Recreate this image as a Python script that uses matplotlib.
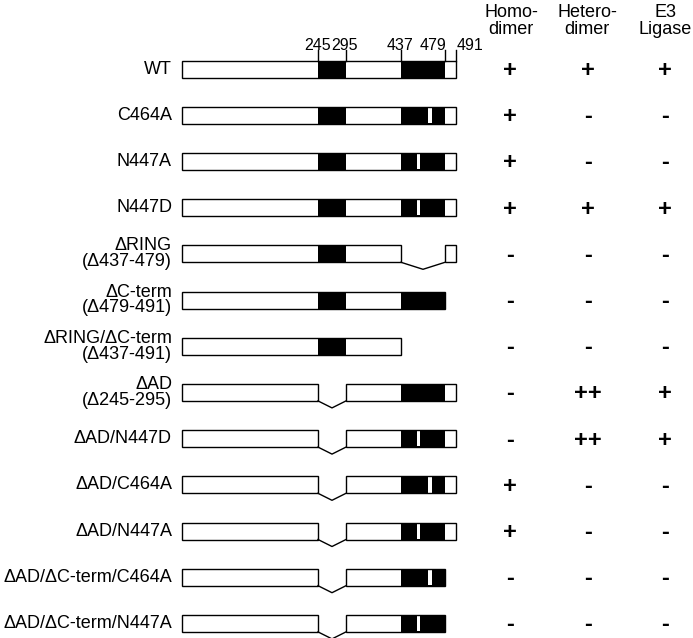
import numpy as np
import matplotlib.pyplot as plt
from matplotlib.patches import Rectangle

plt.rcParams['font.family'] = ['Liberation Sans', 'DejaVu Sans']

# Data
constructs = ['WT', 'C464A', 'N447A', 'N447D',
              'ΔRING\n(Δ437-479)', 'ΔC-term\n(Δ479-491)',
              'ΔRING/ΔC-term\n(Δ437-491)', 'ΔAD\n(Δ245-295)',
              'ΔAD/N447D', 'ΔAD/C464A', 'ΔAD/N447A',
              'ΔAD/ΔC-term/C464A', 'ΔAD/ΔC-term/N447A']

full = [(1, 491)]
no_ad = [(1, 245), (295, 491)]
no_ad_ct = [(1, 245), (295, 479)]
segments = [full, full, full, full,
            [(1, 437), (479, 491)], [(1, 479)], [(1, 437)],
            no_ad, no_ad, no_ad, no_ad, no_ad_ct, no_ad_ct]

mutations = [None, 464, 447, 447, None, None, None, None,
             447, 464, 447, 464, 447]

domains = [(245, 295), (437, 479)]   # AD, RING
boundaries = [245, 295, 437, 479, 491]

columns = ['Homo-\ndimer', 'Hetero-\ndimer', 'E3\nLigase']
homodimer = ['+', '+', '+', '+', '-', '-', '-', '-', '-', '+', '+', '-', '-']
heterodimer = ['+', '-', '-', '+', '-', '-', '-', '++', '++', '-', '-', '-', '-']
e3_ligase = ['+', '-', '-', '+', '-', '-', '-', '+', '+', '-', '-', '-', '-']

# Schematic (not to scale) residue -> pixel mapping
res_keys = [1, 245, 295, 437, 447, 464, 479, 491]
px_keys = [182, 318, 346, 401, 418.5, 430, 445, 456]


def xpos(r):
    return np.interp(r, res_keys, px_keys)


fig = plt.figure(figsize=(6.93, 6.38), dpi=100)
ax = fig.add_axes([0, 0, 1, 1])
ax.set_xlim(0, 693)
ax.set_ylim(638, 0)
ax.axis('off')

row0, row_step, bar_h = 69, 46.2, 17
lw = 1.0

for i, (label, segs, mut) in enumerate(zip(constructs, segments, mutations)):
    yc = row0 + i * row_step
    top, bot = yc - bar_h / 2, yc + bar_h / 2

    for s, e in segs:
        ax.add_patch(Rectangle((xpos(s), top), xpos(e) - xpos(s), bar_h,
                               facecolor='white', edgecolor='none'))
        for ds, de in domains:
            a, b = max(s, ds), min(e, de)
            if b > a:
                ax.add_patch(Rectangle((xpos(a), top), xpos(b) - xpos(a), bar_h,
                                       facecolor='black', edgecolor='none'))
        if mut is not None and s < mut < e:
            ax.add_patch(Rectangle((xpos(mut) - 1.8, top + 0.8), 3.6, bar_h - 1.6,
                                   facecolor='white', edgecolor='none'))
        ax.add_patch(Rectangle((xpos(s), top), xpos(e) - xpos(s), bar_h,
                               facecolor='none', edgecolor='black', lw=lw))

    # deletion connectors
    for (s1, e1), (s2, e2) in zip(segs[:-1], segs[1:]):
        x1, x2 = xpos(e1), xpos(s2)
        ax.plot([x1, (x1 + x2) / 2, x2], [bot, bot + 7, bot],
                color='black', lw=lw)

    ax.text(172, yc, label, ha='right', va='center', fontsize=13,
            linespacing=0.9)

    for cx, val in zip([510, 588, 665], [homodimer[i], heterodimer[i], e3_ligase[i]]):
        ax.text(cx, yc + 8, val, ha='center', va='baseline', fontsize=17,
                fontweight='bold')

# residue boundaries above WT
wt_top = row0 - bar_h / 2
label_ha = ['center', 'center', 'center', 'right', 'left']
label_dx = [-0.5, -2, -1, 1.5, 0.5]
for r, ha, dx in zip(boundaries, label_ha, label_dx):
    ax.plot([xpos(r), xpos(r)], [wt_top, 50], color='black', lw=lw)
    ax.text(xpos(r) + dx, 50, str(r), ha=ha, va='baseline', fontsize=11.5)

for cx, col in zip([511, 587, 665], columns):
    ax.text(cx, 21, col, ha='center', va='center', fontsize=13,
            linespacing=1.0)

fig.savefig('out.png', dpi=100)
